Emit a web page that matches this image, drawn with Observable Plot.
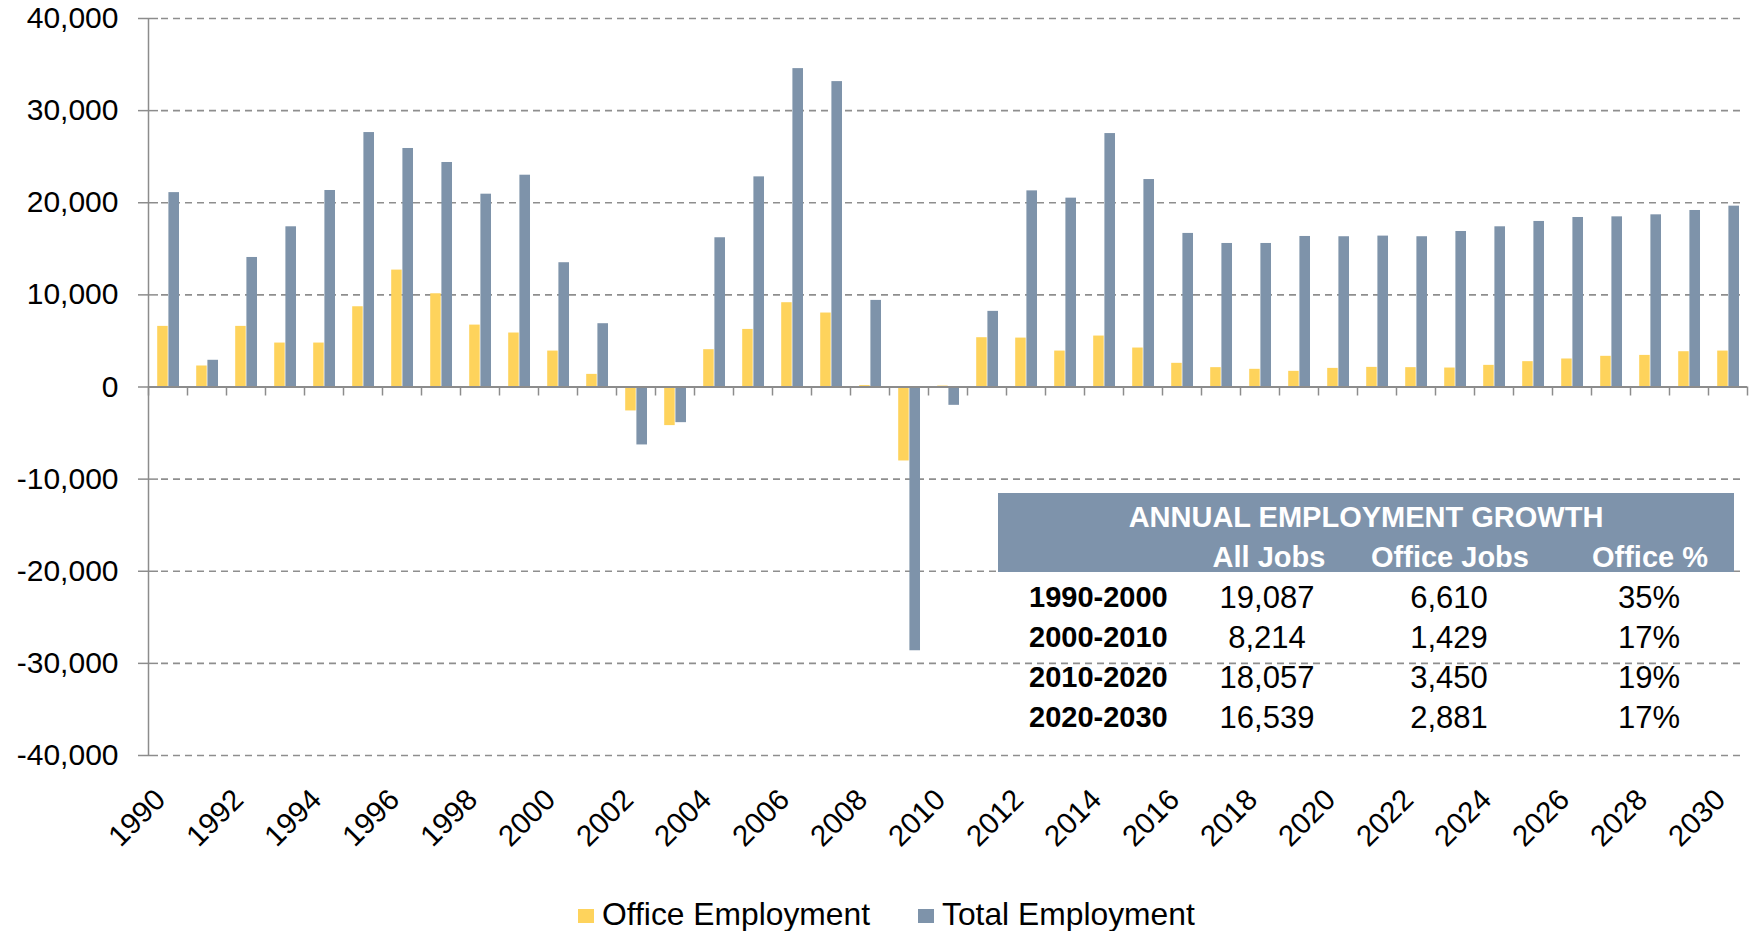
<!DOCTYPE html>
<html>
<head>
<meta charset="utf-8">
<script src="https://cdn.jsdelivr.net/npm/d3@7"></script>
<script src="https://cdn.jsdelivr.net/npm/@observablehq/plot@0.6"></script>
<style>
  html, body { margin: 0; padding: 0; background: #fff; }
  #wrap { position: relative; width: 1752px; height: 931px; overflow: hidden;
          font-family: "Liberation Sans", Arial, sans-serif; color: #000; }
  #chart { position: absolute; left: 0; top: 0; }
  .abs { position: absolute; white-space: nowrap; line-height: 1; }
  .hdr { background: #7e93ab; }
  .b { font-weight: bold; font-size: 29px; }
  .r { font-size: 31px; }
  .lg { font-size: 31.8px; }
  .w { color: #fff; }
  .c { transform: translateX(-50%); }
  .sw { position: absolute; width: 16px; height: 14px; }
</style>
</head>
<body>
<div id="wrap"><div id="chart"></div></div>
<script>
// ---- data ----
const years = [1990,1991,1992,1993,1994,1995,1996,1997,1998,1999,2000,
               2001,2002,2003,2004,2005,2006,2007,2008,2009,2010,
               2011,2012,2013,2014,2015,2016,2017,2018,2019,2020,
               2021,2022,2023,2024,2025,2026,2027,2028,2029,2030];
const officeEmployment = [6580,2280,6580,4770,4770,8710,12690,10120,6720,5860,3900,
                          1370,-2600,-4190,4050,6250,9150,8030,150,-8030,100,
                          5350,5310,3900,5530,4230,2570,2100,1920,1700,2020,
                          2130,2100,2060,2350,2750,3040,3330,3430,3830,3900];
const totalEmployment = [21100,2900,14060,17390,21330,27620,25890,24370,20930,22990,13490,
                         6870,-6290,-3870,16200,22810,34560,33150,9400,-28630,-1990,
                         8210,21290,20500,27510,22520,16670,15580,15580,16340,16310,
                         16380,16310,16880,17390,17970,18400,18470,18690,19160,19630];
const yTicks = [-40000,-30000,-20000,-10000,0,10000,20000,30000,40000];
const xLabelYears = [1990,1992,1994,1996,1998,2000,2002,2004,2006,2008,2010,
                     2012,2014,2016,2018,2020,2022,2024,2026,2028,2030];
const seriesNames = ["Office Employment", "Total Employment"];
const seriesColors = ["#fed35c", "#7e93aa"];

const tableTitle = "ANNUAL EMPLOYMENT GROWTH";
const tableColumns = ["All Jobs", "Office Jobs", "Office %"];
const tablePeriods = ["1990-2000", "2000-2010", "2010-2020", "2020-2030"];
const tableAllJobs = ["19,087", "8,214", "18,057", "16,539"];
const tableOfficeJobs = ["6,610", "1,429", "3,450", "2,881"];
const tableOfficePct = ["35%", "17%", "19%", "17%"];

// ---- chart ----
const W = 1752, H = 870, ML = 148, MR = 5, MT = 18, MB = 115;
const bw = (W - ML - MR) / years.length;
const plotW = W - ML - MR;
const rows = years.map((year, i) => ({year, office: officeEmployment[i], total: totalEmployment[i]}));
const axisColor = "#8c8c8c";
const font = '"Liberation Sans", Arial, sans-serif';
const fmt = d3.formatLocale({decimal: ".", thousands: ",", grouping: [3], currency: ["", ""], minus: "-"}).format(",");

const plot = Plot.plot({
  width: W, height: H,
  marginLeft: ML, marginRight: MR, marginTop: MT, marginBottom: MB,
  style: {fontFamily: font, background: "transparent", overflow: "visible", color: "#000"},
  x: {type: "band", domain: years, padding: 0, axis: null},
  y: {domain: [-40000, 40000], axis: null},
  marks: [
    // dashed gridlines
    Plot.ruleY(yTicks.filter(d => d !== 0), {stroke: "#8e8e8e", strokeWidth: 1.6, strokeDasharray: "7,5", insetLeft: 13, insetRight: 5}),
    // bars
    Plot.barY(rows, {x: "year", y: "office", fill: seriesColors[0], insetLeft: 0.236 * bw, insetRight: 0.495 * bw}),
    Plot.barY(rows, {x: "year", y: "total", fill: seriesColors[1], insetLeft: 0.523 * bw, insetRight: 0.205 * bw}),
    // y-axis cross ticks
    Plot.ruleY(yTicks, {stroke: axisColor, strokeWidth: 1.5, insetLeft: -10, insetRight: plotW - 10}),
    // category axis at zero
    Plot.ruleY([0], {stroke: axisColor, strokeWidth: 1.8}),
    Plot.ruleX(years, {x: d => d, y1: 0, y2: 0, insetBottom: -9, dx: -bw / 2, stroke: axisColor, strokeWidth: 1.5}),
    Plot.ruleX([years[years.length - 1]], {x: d => d, y1: 0, y2: 0, insetBottom: -9, dx: bw / 2, stroke: axisColor, strokeWidth: 1.5}),
    // y-axis line
    Plot.ruleX([years[0]], {x: d => d, y1: -40000, y2: 40000, dx: -bw / 2, stroke: axisColor, strokeWidth: 1.5}),
    // y tick labels
    Plot.text(yTicks, {y: d => d, text: d => fmt(d), frameAnchor: "left", dx: -30, textAnchor: "end", fontSize: 30, fill: "#000"}),
    // x labels
    Plot.text(xLabelYears, {x: d => d, text: d => String(d), frameAnchor: "bottom", dy: 46, dx: -1, rotate: -45, textAnchor: "end", fontSize: 29.5, fill: "#000"})
  ]
});
document.getElementById("chart").appendChild(plot);

// ---- table overlay & legend ----
const wrap = document.getElementById("wrap");
function add(txt, cls, left, baseline, fs) {
  const el = document.createElement("div");
  el.className = "abs " + cls;
  el.textContent = txt;
  el.style.left = left + "px";
  el.style.top = (baseline - 0.8465 * fs) + "px";
  wrap.appendChild(el);
  return el;
}
const hdr = document.createElement("div");
hdr.className = "abs hdr";
Object.assign(hdr.style, {left: "998px", top: "493px", width: "736px", height: "79px"});
wrap.appendChild(hdr);

add(tableTitle, "b w c", 1366, 528, 29);
const colCenters = [1269, 1450, 1650];
tableColumns.forEach((t, i) => add(t, "b w c", colCenters[i], 568, 29));
const rowBase = [608, 648, 688, 728];
const valCenters = [1267, 1449, 1649];
tablePeriods.forEach((p, i) => {
  add(p, "b", 1029, rowBase[i], 29);
  add(tableAllJobs[i], "r c", valCenters[0], rowBase[i], 31);
  add(tableOfficeJobs[i], "r c", valCenters[1], rowBase[i], 31);
  add(tableOfficePct[i], "r c", valCenters[2], rowBase[i], 31);
});

// legend
const legendX = [578, 918];
seriesNames.forEach((name, i) => {
  const sw = document.createElement("div");
  sw.className = "sw";
  Object.assign(sw.style, {left: legendX[i] + "px", top: "909px", background: seriesColors[i]});
  wrap.appendChild(sw);
  add(name, "lg", legendX[i] + 24, 925.5, 31.8);
});
</script>
</body>
</html>
